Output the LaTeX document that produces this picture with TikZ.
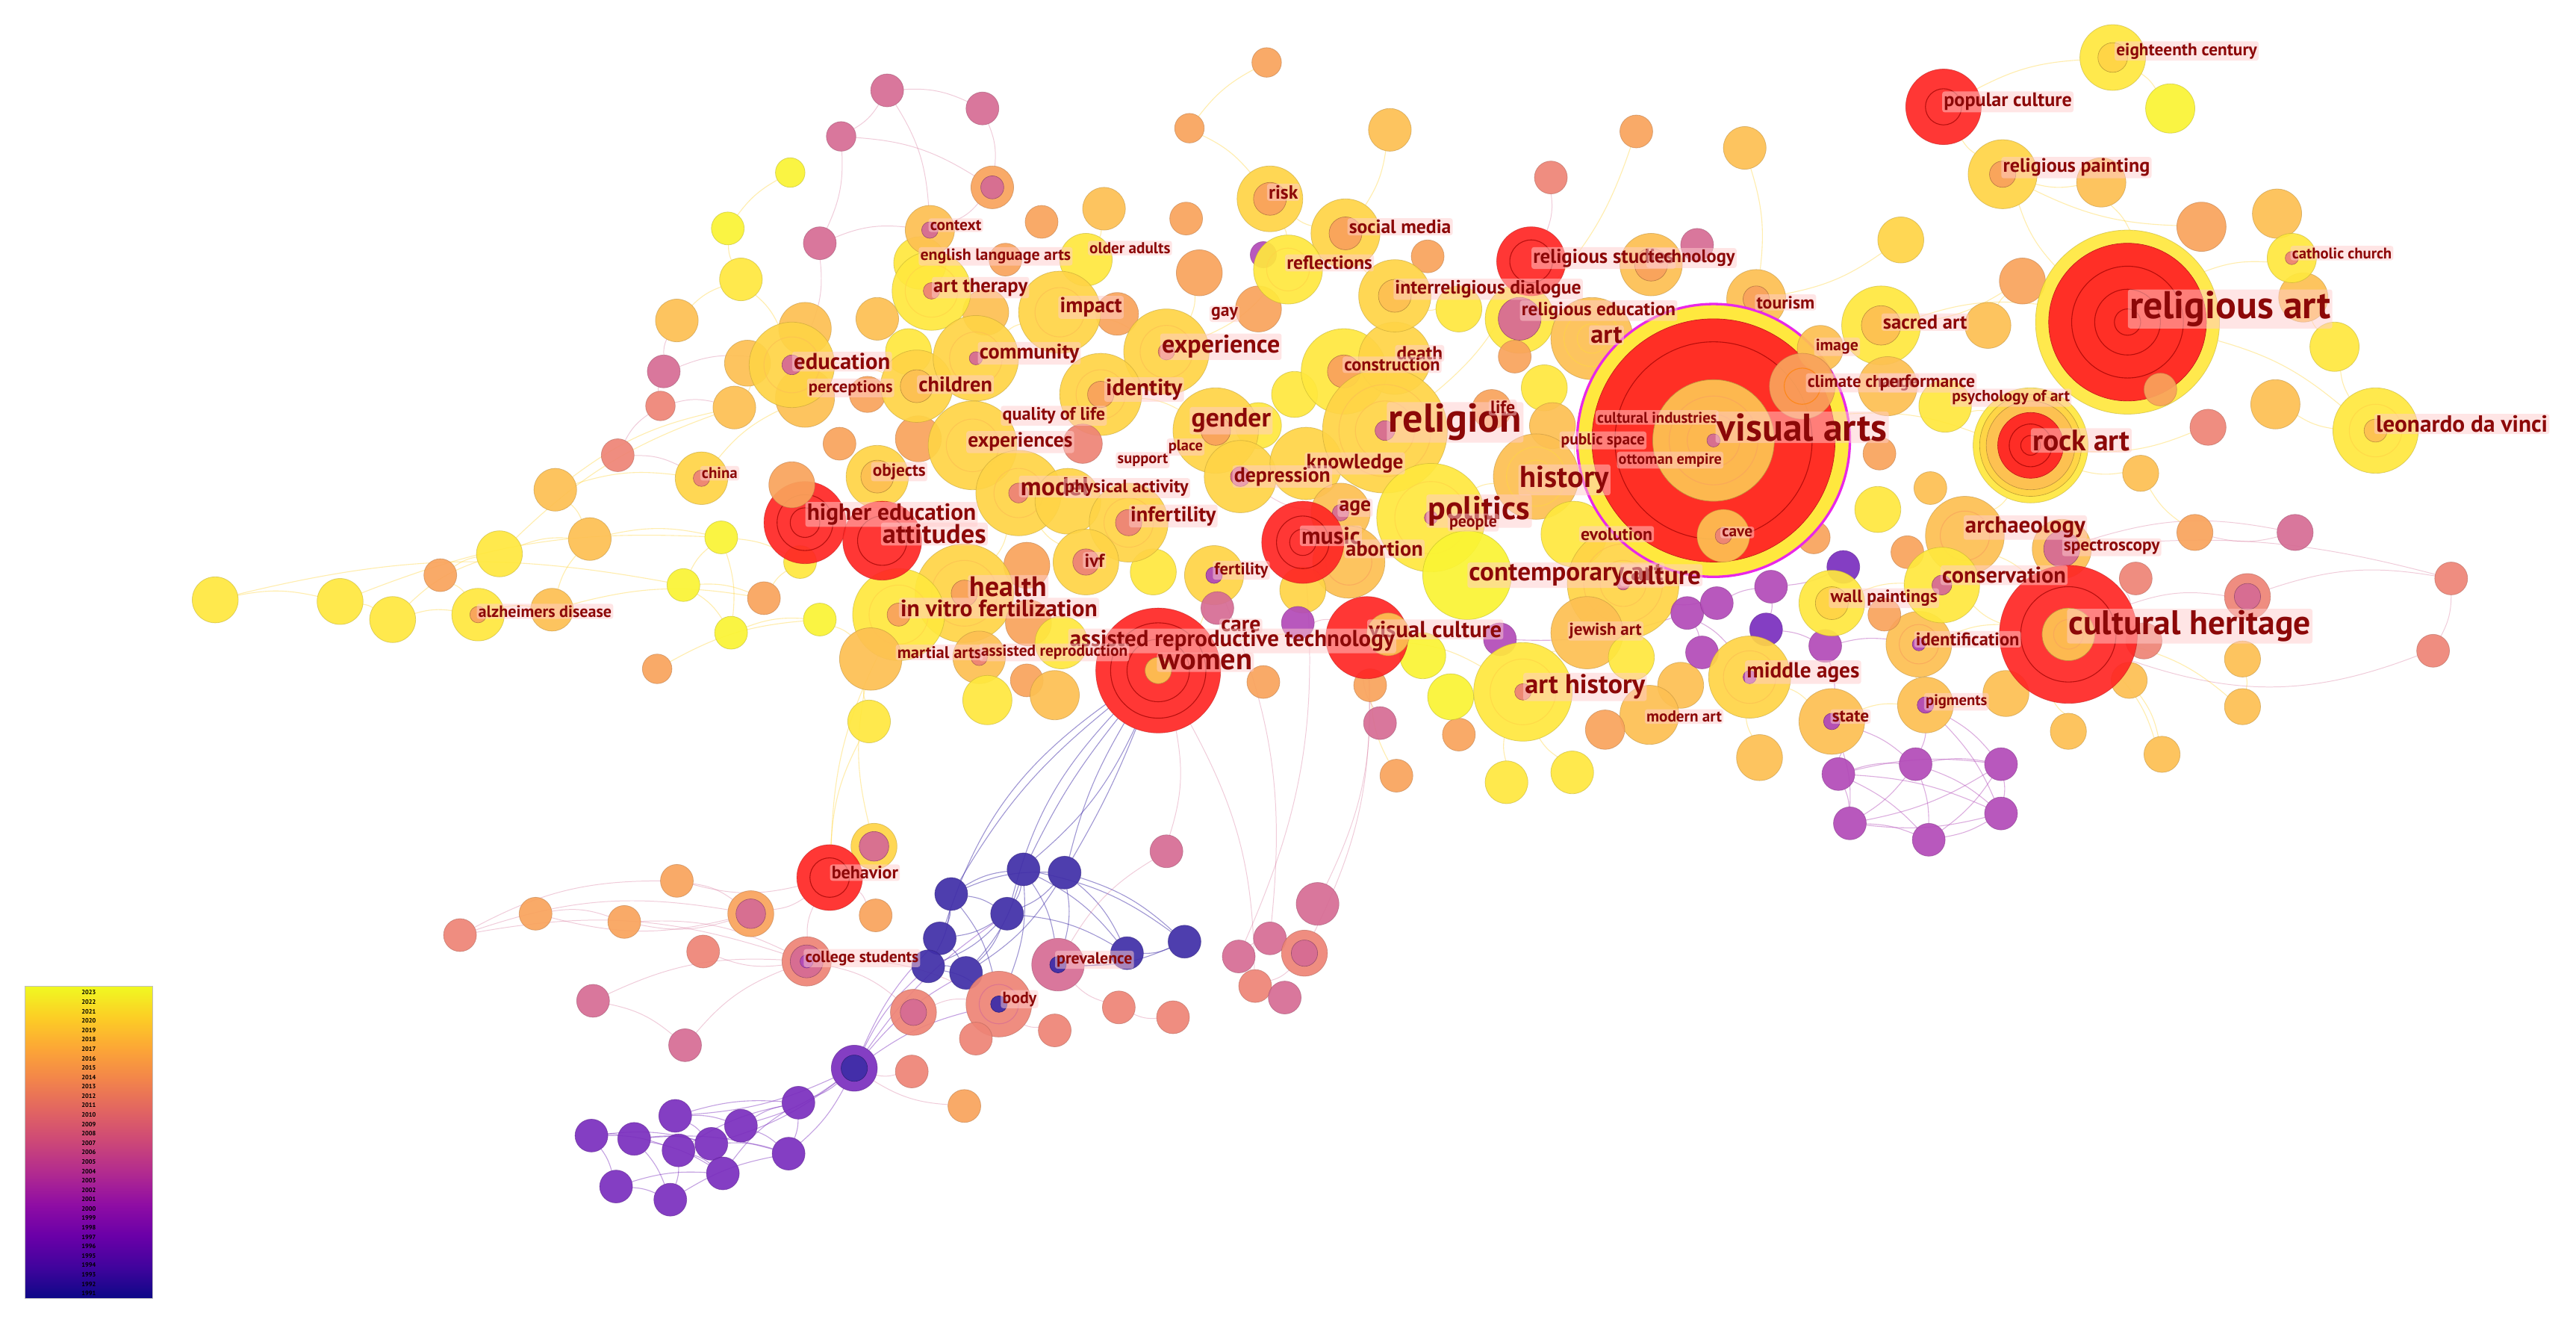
\documentclass[tikz,border=0pt]{standalone}
\usepackage{fontspec}
\setmainfont{PT Sans}
\pgfdeclarelayer{bg}
\pgfdeclarelayer{fg}
\pgfsetlayers{bg,main,fg}
\definecolor{cY}{RGB}{255,232,62}
\definecolor{cYB}{RGB}{250,244,52}
\definecolor{cLY}{RGB}{255,212,70}
\definecolor{cLO}{RGB}{253,192,82}
\definecolor{cO}{RGB}{249,163,92}
\definecolor{cS}{RGB}{238,132,118}
\definecolor{cP}{RGB}{214,108,148}
\definecolor{cM}{RGB}{178,74,184}
\definecolor{cV}{RGB}{122,46,190}
\definecolor{cB}{RGB}{64,46,168}
\definecolor{cR}{RGB}{255,38,36}
\definecolor{labred}{RGB}{140,8,8}
\definecolor{labbg}{RGB}{255,205,205}
\definecolor{mag}{RGB}{232,40,232}
\definecolor{pl0}{RGB}{13,8,135}
\definecolor{pl1}{RGB}{65,4,157}
\definecolor{pl2}{RGB}{106,0,168}
\definecolor{pl3}{RGB}{143,13,164}
\definecolor{pl4}{RGB}{177,42,144}
\definecolor{pl5}{RGB}{204,71,120}
\definecolor{pl6}{RGB}{225,100,98}
\definecolor{pl7}{RGB}{242,132,75}
\definecolor{pl8}{RGB}{252,166,54}
\definecolor{pl9}{RGB}{252,206,37}
\definecolor{pl10}{RGB}{240,249,33}
\pgfdeclareverticalshading{plasma}{100bp}{color(0bp)=(pl0); color(25bp)=(pl0); color(30bp)=(pl1); color(35bp)=(pl2); color(40bp)=(pl3); color(45bp)=(pl4); color(50bp)=(pl5); color(55bp)=(pl6); color(60bp)=(pl7); color(65bp)=(pl8); color(70bp)=(pl9); color(75bp)=(pl10); color(100bp)=(pl10)}
\tikzset{
 nd/.style={circle,inner sep=0pt,outer sep=0pt,fill opacity=0.92,draw opacity=0.55,line width=0.35pt},
 lab/.style={anchor=west,text=labred,fill=labbg,fill opacity=0.5,text opacity=1,inner sep=1pt,rounded corners=1.5pt},
 ye/.style={draw=cY!80!orange,line width=0.5pt,draw opacity=0.4},
 pe/.style={draw=cP,line width=0.45pt,draw opacity=0.35},
 be/.style={draw=cB,line width=0.5pt,draw opacity=0.5},
 ve/.style={draw=cV,line width=0.5pt,draw opacity=0.45},
 me/.style={draw=cM,line width=0.5pt,draw opacity=0.45},
 yrl/.style={font=\bfseries\fontsize{3.8}{3.8}\selectfont,text=black,inner sep=0pt},
 rl/.style={line width=0.5pt,draw opacity=0.7}
}
\newcommand\nd[5]{\node[nd,fill=#5,draw=#5!75!black,minimum size=#4*2pt] (#1) at (#2,#3) {};}
\newcommand\din[3]{\fill[#3,draw=#3!75!black,line width=0.3pt,fill opacity=0.95] (#1.center) circle[radius=#2pt];}
\newcommand\rng[3]{\draw[#3,rl] (#1.center) circle[radius=#2pt];}
\newcommand\lb[5]{\pgfmathsetmacro\labfs{#4*1.08}\node[lab,font=\bfseries\fontsize{\labfs}{\labfs}\selectfont] (#1) at (#2,#3) {#5};}
\begin{document}
\begin{tikzpicture}[x=1pt,y=-1pt]
\useasboundingbox (0,0) rectangle (1568,806);
\begin{pgfonlayer}{bg}
\fill[white] (0,0) rectangle (1568,806);
\end{pgfonlayer}
% ---------- outer left nodes
\nd{a1}{131}{365}{14}{cY}
\nd{a2}{207}{366}{14}{cY}
\nd{a3}{239}{377}{14}{cY}
\nd{a4}{268}{350}{10}{cO}
\nd{alz}{291}{374}{16}{cY} \din{alz}{5}{cO}
\nd{a5}{304}{337}{14}{cY}
\nd{a6}{336}{371}{13}{cLO}
\nd{a7}{338}{298}{13}{cLO}
\nd{a8}{359}{328}{13}{cLO}
\nd{a9}{376}{277}{10}{cS}
\nd{a10}{400}{407}{9}{cO}
\nd{a11}{402}{247}{9}{cS}
\nd{a12}{404}{226}{10}{cP}
\nd{a13}{412}{195}{13}{cLO}
\nd{a14}{416}{356}{10}{cYB}
\nd{china}{427}{291}{16}{cLY} \din{china}{5}{cS}
\nd{a15}{439}{327}{10}{cYB}
\nd{a16}{445}{385}{10}{cYB}
\nd{a17}{451}{170}{13}{cY}
\nd{a18}{443}{139}{10}{cYB}
\nd{a19}{447}{248}{13}{cLO}
\nd{a20}{481}{105}{9}{cYB}
\nd{a21}{499}{148}{10}{cP}
\nd{a22}{465}{364}{10}{cO}
\nd{a23}{487}{342}{10}{cY}
\nd{a24}{499}{377}{10}{cYB}
\nd{a25}{455}{221}{14}{cLO}
\nd{a26}{490}{242}{18}{cLO}
\nd{a27}{490}{200}{16}{cLO}
\nd{a28}{534}{194}{13}{cLO}
\nd{a29}{553}{214}{14}{cY}
\nd{a30}{511}{270}{10}{cO}
\nd{a31}{559}{267}{14}{cO}
\nd{a32}{529}{439}{13}{cY}
% ---------- top group
\nd{b1}{540}{55}{10}{cP}
\nd{b2}{598}{66}{10}{cP}
\nd{b3}{512}{83}{9}{cP}
\nd{b4}{604}{114}{13}{cO} \din{b4}{7}{cP}
\nd{b5}{634}{135}{10}{cO}
\nd{b6}{672}{127}{13}{cLO}
\nd{b7}{612}{158}{10}{cO}
\nd{b8}{730}{166}{14}{cO}
\nd{b9}{724}{78}{9}{cO}
\nd{b10}{771}{38}{9}{cO}
\nd{b11}{722}{133}{10}{cO}
\nd{b12}{661}{158}{16}{cY}
\nd{b13}{600}{190}{14}{cLO}
\nd{b14}{680}{191}{13}{cO}
\nd{b15}{846}{79}{13}{cLO}
\nd{b16}{996}{80}{10}{cO}
\nd{b17}{1062}{90}{13}{cLO}
\nd{b18}{944}{108}{10}{cS}
\nd{b19}{869}{156}{10}{cO}
\nd{b20}{888}{188}{14}{cY}
\nd{b21}{766}{188}{14}{cO}
\nd{b22}{1033}{149}{10}{cP}
\nd{t14}{1157}{146}{14}{cLY}
\nd{b24}{788}{240}{14}{cY}
\nd{b25}{766}{259}{14}{cY}
\nd{mrefl}{769}{155}{8}{cM}
% ---------- main cluster
\nd{edu}{482}{222}{26}{cLY} \rng{edu}{17}{cLO} \din{edu}{6}{cP}
\nd{perc}{528}{240}{11}{cO}
\nd{chil}{558}{235}{22}{cLY} \din{chil}{10}{cLO}
\nd{obj}{534}{290}{19}{cLY} \din{obj}{10}{cLO}
\nd{ela}{560}{160}{16}{cY}
\nd{ctx}{566}{140}{15}{cLO} \din{ctx}{5}{cP}
\nd{arth}{567}{177}{24}{cY} \rng{arth}{16}{cLY} \din{arth}{5}{cS}
\nd{imp}{645}{190}{25}{cLY} \rng{imp}{15}{cLO}
\nd{risk}{773}{121}{20}{cLY} \din{risk}{10}{cO}
\nd{smed}{819}{142}{21}{cLY} \din{smed}{10}{cO}
\nd{refl}{784}{164}{21}{cY} \rng{refl}{13}{cLY}
\nd{exp}{710}{214}{26}{cLY} \rng{exp}{16}{cLO} \din{exp}{5}{cS}
\nd{ident}{670}{240}{25}{cLY} \rng{ident}{15}{cLO} \din{ident}{8}{cO}
\nd{comm}{594}{218}{26}{cLY} \rng{comm}{16}{cLO} \din{comm}{4}{cP}
\nd{exps}{592}{271}{27}{cLY} \rng{exps}{16}{cLO}
\nd{qol}{659}{270}{12}{cS}
\nd{gend}{740}{262}{26}{cLY} \din{gend}{9}{cO}
\nd{model}{620}{300}{26}{cLY} \rng{model}{15}{cLO} \din{model}{6}{cS}
\nd{phys}{650}{305}{20}{cLY}
\nd{dep}{755}{290}{22}{cLY} \din{dep}{6}{cP}
\nd{know}{795}{282}{22}{cLY}
\nd{cons}{818}{226}{26}{cY} \din{cons}{10}{cO}
\nd{death}{849}{218}{22}{cLY}
\nd{inter}{849}{180}{22}{cLY} \din{inter}{10}{cLO}
\nd{relig}{843}{262}{38}{cLY} \rng{relig}{28}{cLO} \rng{relig}{18}{cLO} \din{relig}{6}{cP}
\nd{life}{908}{249}{12}{cO}
\nd{reled}{925}{194}{21}{cY} \din{reled}{13}{cP}
\nd{c1}{922}{217}{10}{cO}
\nd{art}{969}{206}{25}{cLO} \rng{art}{17}{cLY} \rng{art}{9}{cLY}
\nd{c2}{940}{236}{14}{cY}
\nd{c3}{945}{259}{14}{cLO}
\nd{polit}{871}{315}{33}{cY} \rng{polit}{22}{cLY} \din{polit}{4}{cP}
\nd{hist}{935}{290}{26}{cLO} \rng{hist}{18}{cLY} \rng{hist}{10}{cLY}
\nd{c4}{893}{350}{27}{cYB}
\nd{evol}{958}{325}{20}{cY}
\nd{cont}{988}{355}{34}{cLY} \rng{cont}{24}{cLO} \rng{cont}{14}{cLO} \din{cont}{4}{cP}
\nd{age}{816}{312}{18}{cLO} \din{age}{5}{cP}
\nd{abort}{821}{342}{22}{cLO} \rng{abort}{14}{cO}
\nd{c5}{793}{359}{14}{cLY}
\nd{fert}{739}{350}{18}{cLY} \din{fert}{5}{cM}
\nd{care}{741}{370}{10}{cP}
\nd{c6}{702}{348}{14}{cY}
\nd{inf}{687}{318}{24}{cLY} \rng{inf}{15}{cLO} \din{inf}{8}{cS}
\nd{ivf}{661}{342}{20}{cLY} \din{ivf}{8}{cS}
\nd{c7}{625}{344}{14}{cO}
\nd{hlth}{587}{361}{30}{cLY} \rng{hlth}{20}{cLO} \din{hlth}{8}{cO}
\nd{ivfz}{547}{374}{28}{cY} \rng{ivfz}{18}{cLY} \din{ivfz}{7}{cO}
\nd{mart}{530}{401}{19}{cLO}
\nd{arep}{596}{400}{16}{cLO} \din{arep}{5}{cS}
\nd{c8}{626}{379}{14}{cO}
\nd{art2}{646}{391}{16}{cY}
\nd{c9}{625}{414}{10}{cO}
\nd{c10}{642}{423}{15}{cLO}
\nd{c11}{601}{426}{15}{cY}
\nd{c12}{769}{415}{10}{cO}
\nd{c13}{790}{379}{10}{cM}
\nd{c14}{834}{417}{10}{cO}
\nd{c15}{840}{440}{10}{cP}
\nd{c16}{888}{447}{10}{cO}
\nd{c17}{866}{399}{14}{cYB}
\nd{c18}{883}{424}{14}{cYB}
\nd{c19}{913}{389}{10}{cM}
\nd{c20}{850}{472}{10}{cO}
\nd{c21}{917}{476}{13}{cY}
\nd{c22}{957}{470}{13}{cY}
\nd{ahist}{927}{421}{30}{cY} \rng{ahist}{20}{cLY} \din{ahist}{5}{cS}
\nd{jew}{966}{385}{22}{cLO}
\nd{c23}{993}{400}{14}{cY}
\nd{c24}{1023}{417}{14}{cLO}
\nd{modart}{1004}{435}{18}{cLO}
\nd{c25}{977}{444}{12}{cO}
\nd{pm1}{1027}{373}{10}{cM}
\nd{pm2}{1045}{367}{10}{cM}
\nd{pm3}{1036}{397}{10}{cM}
\nd{pm4}{1078}{357}{10}{cM}
\nd{pm5}{1075}{383}{10}{cV}
\nd{pm6}{1111}{393}{10}{cM}
\nd{pm7}{1122}{345}{10}{cV}
\nd{mid}{1065}{412}{25}{cLY} \rng{mid}{16}{cLO} \din{mid}{4}{cM}
\nd{c26}{1071}{461}{14}{cLO}
\nd{state}{1115}{439}{20}{cLO} \din{state}{5}{cM}
\nd{pig}{1172}{429}{17}{cLO} \din{pig}{5}{cM}
\nd{ident2}{1168}{392}{20}{cLO} \rng{ident2}{12}{cO} \din{ident2}{4}{cM}
\nd{c27}{1147}{374}{10}{cO}
\nd{wall}{1115}{367}{20}{cY} \din{wall}{10}{cLY}
\nd{c28}{1161}{336}{10}{cO}
\nd{c29}{1143}{310}{14}{cY}
\nd{c30}{1175}{297}{10}{cLO}
\nd{c31}{1144}{276}{10}{cO}
\nd{c32}{1104}{327}{10}{cO}
\nd{arch}{1196}{326}{24}{cLO} \rng{arch}{15}{cO}
\nd{cons2}{1182}{356}{23}{cY} \din{cons2}{6}{cP}
\nd{spec}{1255}{334}{18}{cLO} \din{spec}{11}{cP}
% ---------- right side
\nd{r1}{1300}{352}{10}{cS}
\nd{r2}{1305}{390}{11}{cS}
\nd{r3}{1368}{363}{14}{cS} \din{r3}{8}{cP}
\nd{r4}{1397}{324}{11}{cP}
\nd{r5}{1336}{324}{11}{cO}
\nd{r6}{1492}{352}{10}{cS}
\nd{r7}{1481}{396}{10}{cS}
\nd{r8}{1365}{401}{11}{cLO}
\nd{r9}{1296}{414}{11}{cLO}
\nd{r10}{1365}{430}{11}{cLO}
\nd{r11}{1259}{445}{11}{cLO}
\nd{r12}{1316}{459}{11}{cLO}
\nd{r13}{1221}{422}{14}{cLO}
\nd{m1}{1119}{471}{10}{cM}
\nd{m2}{1166}{465}{10}{cM}
\nd{m3}{1218}{465}{10}{cM}
\nd{m4}{1218}{495}{10}{cM}
\nd{m5}{1126}{501}{10}{cM}
\nd{m6}{1174}{511}{10}{cM}
\nd{t2}{1386}{130}{15}{cLO}
\nd{t3}{1340}{138}{15}{cO}
\nd{t4}{1402}{181}{15}{cLO}
\nd{cath}{1395}{157}{15}{cY} \din{cath}{4}{cS}
\nd{t5}{1421}{211}{15}{cY}
\nd{t6}{1385}{246}{15}{cLO}
\nd{t7}{1344}{260}{11}{cS}
\nd{t8}{1303}{288}{11}{cLO}
\nd{t9}{1279}{111}{15}{cLO}
\nd{t10}{1321}{66}{15}{cYB}
\nd{t12}{1231}{171}{14}{cO}
\nd{t13}{1210}{198}{14}{cLO}
\nd{leo}{1446}{262}{26}{cY} \rng{leo}{16}{cLY} \din{leo}{7}{cLO}
\nd{rpaint}{1219}{106}{21}{cLY} \din{rpaint}{8}{cO}
\nd{eight}{1286}{35}{20}{cY} \din{eight}{9}{cLY}
\nd{pop}{1183}{65}{23}{cR} \rng{pop}{11}{red!60!black}
\nd{tour}{1069}{182}{18}{cLO} \din{tour}{8}{cO}
\nd{tech}{1005}{161}{19}{cLO} \din{tech}{10}{cO}
\nd{relst}{932}{159}{21}{cR} \rng{relst}{13}{red!60!black}
\nd{sacred}{1145}{198}{24}{cY} \din{sacred}{12}{cLO}
\nd{psych}{1184}{247}{16}{cY}
% visual arts
\node[circle,inner sep=0pt,minimum size=166pt,fill=cY,draw=mag,line width=1.5pt] (va) at (1043,268) {};
\din{va}{74}{cR} \rng{va}{60}{red!60!black} \din{va}{37}{cLO} \rng{va}{27}{cO} \rng{va}{16}{cO} \din{va}{4}{cP}
\nd{image}{1108}{212}{14}{cLO}
\nd{clim}{1097}{235}{20}{cO} \rng{clim}{11}{orange}
\nd{perf}{1149}{235}{18}{cLO}
\nd{cave}{1049}{326}{16}{cLO} \din{cave}{5}{cS}
% religious art, rock art, cultural heritage
\nd{relart}{1295}{196}{56}{cY} \din{relart}{48}{cR} \rng{relart}{34}{red!60!black} \rng{relart}{20}{red!60!black} \rng{relart}{8}{red!60!black}
\nd{t11}{1315}{237}{10}{cO}
\nd{rock}{1236}{271}{35}{cY} \din{rock}{31}{cLY} \din{rock}{27}{cLO} \din{rock}{20}{cR} \rng{rock}{13}{red!60!black} \rng{rock}{6}{red!60!black}
\nd{ch}{1259}{386}{42}{cR} \rng{ch}{29}{red!60!black} \din{ch}{16}{cLO} \rng{ch}{9}{cO}
% red nodes in cluster
\nd{hied}{490}{318}{25}{cR} \rng{hied}{17}{red!60!black} \rng{hied}{9}{red!60!black}
\nd{att}{537}{329}{24}{cR} \rng{att}{15}{red!60!black}
\nd{a33}{482}{295}{14}{cO}
\nd{music}{793}{330}{25}{cR} \rng{music}{16}{red!60!black} \rng{music}{8}{red!60!black}
\nd{vcul}{832}{388}{25}{cR}
\nd{vin}{845}{386}{13}{cLO}
\nd{women}{705}{408}{38}{cR} \rng{women}{29}{red!60!black} \rng{women}{19}{red!60!black} \din{women}{8}{cLO}
% ---------- lower clusters
\nd{lyr}{532}{515}{14}{cLY} \din{lyr}{9}{cP}
\nd{beh}{505}{534}{20}{cR} \rng{beh}{12}{red!60!black}
\nd{o1}{412}{536}{10}{cO}
\nd{o2}{326}{556}{10}{cO}
\nd{o3}{380}{561}{10}{cO}
\nd{oring}{457}{556}{14}{cO} \din{oring}{9}{cP}
\nd{o4}{533}{557}{10}{cO}
\nd{s1}{280}{569}{10}{cS}
\nd{s2}{428}{579}{10}{cS}
\nd{cs}{491}{585}{15}{cS} \din{cs}{10}{cP} \din{cs}{4}{cM}
\nd{p1}{361}{609}{10}{cP}
\nd{p2}{417}{636}{10}{cP}
\nd{sring}{556}{616}{14}{cS} \din{sring}{8}{cP}
\nd{q1}{579}{544}{10}{cB}
\nd{q2}{623}{529}{10}{cB}
\nd{q3}{648}{531}{10}{cB}
\nd{q4}{613}{556}{10}{cB}
\nd{q5}{572}{571}{10}{cB}
\nd{q6}{565}{588}{10}{cB}
\nd{q7}{588}{592}{10}{cB}
\nd{q8}{721}{573}{10}{cB}
\nd{q9}{686}{580}{10}{cB}
\nd{prev}{644}{587}{16}{cP} \din{prev}{5}{cB}
\nd{body}{608}{611}{20}{cS} \rng{body}{12}{cP} \din{body}{5}{cB}
\nd{s3}{594}{632}{10}{cS}
\nd{s4}{642}{627}{10}{cS}
\nd{s5}{681}{613}{10}{cS}
\nd{s6}{714}{619}{10}{cS}
\nd{p3}{710}{518}{10}{cP}
\nd{vr}{520}{650}{14}{cV} \din{vr}{8}{cB}
\nd{s7}{555}{652}{10}{cS}
\nd{o5}{587}{673}{10}{cO}
\nd{v1}{360}{691}{10}{cV}
\nd{v2}{386}{693}{10}{cV}
\nd{v3}{411}{679}{10}{cV}
\nd{v4}{413}{700}{10}{cV}
\nd{v5}{433}{696}{10}{cV}
\nd{v6}{451}{685}{10}{cV}
\nd{v7}{486}{671}{10}{cV}
\nd{v8}{480}{702}{10}{cV}
\nd{v9}{440}{714}{10}{cV}
\nd{v10}{375}{722}{10}{cV}
\nd{v11}{408}{730}{10}{cV}
\nd{p4}{754}{582}{10}{cP}
\nd{p5}{773}{571}{10}{cP}
\nd{sr2}{794}{580}{14}{cS} \din{sr2}{8}{cP}
\nd{s8}{764}{600}{10}{cS}
\nd{p6}{782}{607}{10}{cP}
\nd{p7}{802}{550}{13}{cP}
% ---------- connectors
\begin{pgfonlayer}{bg}
\foreach \u/\v in {a1/a2,a2/a3,a3/alz,alz/a6,a6/a8,a4/a5,a4/alz,a5/a8,a3/a5,a7/a8,a7/china,a8/a15,a14/a15,a14/a16,a15/a16,a16/a24,a22/a23,a15/a23,a5/a19,a7/a19,a17/a18,a18/a20,a17/edu,a13/a17,a19/edu,china/a26,a14/a22,edu/chil,chil/comm,comm/imp,imp/exp,exp/ident,ident/gend,gend/dep,dep/know,know/relig,relig/polit,polit/hist,hist/va,relig/cons,cons/death,death/inter,inter/smed,smed/risk,risk/refl,refl/exp,arth/comm,arth/ctx,relst/relig,reled/art,art/va,va/tour,va/sacred,sacred/relart,relart/rpaint,rpaint/pop,pop/eight,eight/t10,relart/cath,relart/leo,va/rock,rock/arch,arch/ch,ch/cons2,ch/spec,b15/smed,b17/tour,b9/risk,b9/b10,b16/reled,b20/inter,b12/imp,b6/b12,b8/exp,b13/arth,model/hlth,hlth/ivfz,ivfz/mart,hlth/arep,inf/ivf,ivf/model,fert/women,women/vcul,vcul/ahist,ahist/jew,jew/cont,cont/evol,evol/cave,mid/state,state/pig,pig/ident2,ident2/ch,wall/cons2,cons2/arch,ch/r10,ch/r12,r11/ch,r9/r12,r8/r10,leo/t6,leo/t5,cath/t2,t3/rpaint,t9/rpaint,t9/relart,t4/cath,t5/t4,t7/rock,t8/rock,r5/t8,ch/r13,r13/pig,psych/rock,perf/sacred,t12/sacred,t13/t12,t14/tour,beh/a32,lyr/mart,lyr/beh,beh/ivfz,a32/mart,a1/a14,a2/a15,a24/mart,a23/hied,c21/ahist,c22/ahist,c20/c14,c16/c18,modart/c24,c26/mid,c25/modart,a10/a24,a6/a22}
  \draw[ye] (\u) to[bend left=12] (\v);
\foreach \u/\v in {a9/a11,a9/china,a11/a12,a12/a13,a12/edu,a21/edu,a21/ctx,a11/a19,b1/b2,b1/b3,b2/b4,b3/b4,b1/ctx,b4/ctx,b3/a21,b18/relst,b22/tech,ch/r3,r3/r6,r6/r7,spec/r4,r4/r5,r1/ch,r2/ch,age/dep,care/fert,c13/vcul,c15/vcul}
  \draw[pe] (\u) to[bend left=14] (\v);
\draw[pe] (r7) to[bend left=20] (ch);
\draw[pe] (spec) to[bend left=10] (r6);
\foreach \u/\v in {m1/m2,m1/m3,m1/m4,m1/m5,m1/m6,m2/m3,m2/m4,m2/m5,m2/m6,m3/m4,m3/m5,m3/m6,m4/m5,m4/m6,m5/m6,state/m1,state/m2,pig/m2,pig/m3,state/m5,pig/m4,pm1/pm3,pm2/pm4,pm4/pm5,pm5/pm6,pm7/pm4,pm1/mid,pm3/mid,pm6/ident2,pm7/wall,pm2/cont,pm1/c19,c19/ahist,pm5/mid,pm6/state}
  \draw[me] (\u) to[bend left=10] (\v);
\foreach \u/\v in {q1/q2,q1/q3,q1/q4,q2/q4,q3/q4,q2/q9,q3/q9,q3/q8,q2/q8,q4/q5,q4/q6,q4/q7,q5/q7,q6/q7,q1/q5,q3/prev,q2/body,q7/body,q6/body,q9/prev,q4/q9,q8/prev,q1/body,q2/prev,q5/q6,q8/q9,q1/q6,q3/q7,q2/q7}
  \draw[be] (\u) to[bend left=12] (\v);
\foreach \v/\b in {q1/10,q2/6,q3/-4,q4/14,q5/18,q2/-12,q3/8}
  \draw[be] (women) to[bend right=\b] (\v);
\foreach \u/\v in {vr/q6,vr/q7,vr/body,vr/q4,vr/q5,vr/v6,vr/v7,vr/v8,vr/v5,vr/v3,v1/v2,v1/v4,v2/v5,v3/v6,v4/v9,v5/v8,v2/v9,v10/v11,v1/v10,v4/v11,v6/v8,v7/v8,v3/v5,v11/v8,v9/v7,v2/v8,v1/v5,v2/v11,v10/v9,v4/v7,v3/v7,v6/v7}
  \draw[ve] (\u) to[bend left=10] (\v);
\foreach \u/\v in {beh/o1,beh/oring,oring/o2,oring/o3,o2/o3,o1/oring,s1/cs,cs/beh,cs/s2,p1/p2,p2/cs,cs/sring,beh/o4,s1/o1,o3/cs,sring/body,cs/body,s4/body,s5/prev,s6/s5,s3/body,o5/vr,s7/vr,prev/p3,p4/p5,p5/sr2,sr2/s8,s8/p6,p4/s8,music/p4,vcul/sr2,vcul/p7,women/p3,women/s8,fert/p5,s1/oring,p1/cs}
  \draw[pe] (\u) to[bend left=14] (\v);
\end{pgfonlayer}
% ---------- labels
\begin{pgfonlayer}{fg}
\lb{leight}{1287}{31}{9.8}{eighteenth century}
\lb{lpop}{1182}{62}{11}{popular culture}
\lb{lrpaint}{1218}{102}{11}{religious painting}
\lb{lcath}{1394}{154}{8.7}{catholic church}
\lb{lrelart}{1295}{188}{21.8}{religious art}
\lb{lsacred}{1145}{196}{11.2}{sacred art}
\lb{lleo}{1445}{258}{13.2}{leonardo da vinci}
\lb{lrock}{1236}{268}{16.7}{rock art}
\lb{lpsych}{1187}{242}{9}{psychology of art}
\lb{lclim}{1099}{233}{9.6}{climate change}
\lb{lperf}{1143}{233}{10}{performance}
\lb{limage}{1104}{211}{9.2}{image}
\lb{ltour}{1068}{184}{10}{tourism}
\lb{lrelst}{932}{157}{11.3}{religious studies}
\lb{ltech}{1002}{157}{10.3}{technology}
\lb{linter}{848}{176}{10.8}{interreligious dialogue}
\lb{lreled}{925}{189}{10.6}{religious education}
\lb{lart}{967}{204}{14.5}{art}
\lb{lcind}{971}{254}{8.7}{cultural industries}
\lb{lva}{1044}{260}{21.8}{visual arts}
\lb{lpspace}{949}{268}{9}{public space}
\lb{lott}{984}{280}{8.5}{ottoman empire}
\lb{lhist}{924}{292}{17}{history}
\lb{lcave}{1047}{324}{9}{cave}
\lb{levol}{961}{325}{10}{evolution}
\lb{lcont}{893}{350}{14.8}{contemporary art}
\lb{lcult}{986}{350}{14.8}{culture}
\lb{lpol}{868}{311}{18.5}{politics}
\lb{lpeople}{881}{318}{9.2}{people}
\lb{lrelig}{844}{257}{22.7}{religion}
\lb{llife}{906}{248}{10}{life}
\lb{ldeath}{849}{215}{10.6}{death}
\lb{lconst}{817}{222}{10.2}{construction}
\lb{lsmed}{820}{138}{10.8}{social media}
\lb{lrefl}{782}{160}{10.7}{reflections}
\lb{lrisk}{771}{117}{10.8}{risk}
\lb{lgay}{736}{191}{10}{gay}
\lb{lexp}{706}{211}{14.3}{experience}
\lb{lold}{662}{151}{8.9}{older adults}
\lb{limp}{644}{187}{12.1}{impact}
\lb{lctx}{565}{137}{9}{context}
\lb{lela}{559}{156}{9.2}{english language arts}
\lb{larth}{567}{175}{11.2}{art therapy}
\lb{lcomm}{595}{215}{11.9}{community}
\lb{ledu}{482}{220}{12.9}{education}
\lb{lperc}{491}{236}{9.5}{perceptions}
\lb{lchil}{558}{234}{11.9}{children}
\lb{lident}{672}{237}{13.1}{identity}
\lb{lqol}{609}{253}{10.2}{quality of life}
\lb{lgend}{724}{256}{15}{gender}
\lb{lexps}{588}{269}{11.6}{experiences}
\lb{lplace}{710}{272}{8.6}{place}
\lb{lsupp}{679}{280}{8.6}{support}
\lb{lknow}{794}{282}{11.7}{knowledge}
\lb{ldep}{750}{290}{11.7}{depression}
\lb{lchina}{426}{288}{8.8}{china}
\lb{lobj}{530}{287}{9.8}{objects}
\lb{lmodel}{620}{296}{14.5}{model}
\lb{lphys}{647}{297}{10.2}{physical activity}
\lb{linf}{687}{314}{12}{infertility}
\lb{lhied}{490}{313}{13.2}{higher education}
\lb{latt}{536}{325}{15.3}{attitudes}
\lb{lage}{814}{309}{11.6}{age}
\lb{lmusic}{791}{326}{13.4}{music}
\lb{labort}{818}{334}{11.9}{abortion}
\lb{livf}{659}{341}{10.5}{ivf}
\lb{lfert}{738}{347}{9.5}{fertility}
\lb{lhealth}{589}{357}{15.9}{health}
\lb{livfz}{547}{370}{13.3}{in vitro fertilization}
\lb{lalz}{290}{372}{9.3}{alzheimers disease}
\lb{lcare}{742}{381}{12.5}{care}
\lb{lvcul}{832}{383}{13}{visual culture}
\lb{ljew}{954}{384}{9.7}{jewish art}
\lb{lwall}{1113}{364}{10}{wall paintings}
\lb{lcons}{1181}{350}{12.8}{conservation}
\lb{larch}{1195}{321}{13}{archaeology}
\lb{lspec}{1255}{333}{9.8}{spectroscopy}
\lb{lident2}{1165}{389}{10.3}{identification}
\lb{lch}{1258}{381}{19.2}{cultural heritage}
\lb{lart2}{650}{390}{13}{assisted reproductive technology}
\lb{lwomen}{704}{403}{17}{women}
\lb{lmart}{545}{397}{9.5}{martial arts}
\lb{larep}{596}{397}{9}{assisted reproduction}
\lb{lmid}{1062}{409}{12.3}{middle ages}
\lb{lahist}{927}{418}{15.3}{art history}
\lb{lmod}{1001}{436}{8.9}{modern art}
\lb{lstate}{1114}{436}{9.8}{state}
\lb{lpig}{1171}{427}{8.7}{pigments}
\lb{lbeh}{505}{531}{10.1}{behavior}
\lb{lcs}{489}{583}{9.1}{college students}
\lb{lprev}{642}{584}{9.2}{prevalence}
\lb{lbody}{609}{608}{9.2}{body}
% ---------- legend
\shade[shading=plasma] (15,600) rectangle (93,790);
\draw[gray!50,line width=0.4pt] (15,600) rectangle (93,790);
\foreach \i in {0,...,32}{
  \pgfmathtruncatemacro\yr{2023-\i}
  \node[yrl] (yr\i) at (54,{604+5.72*\i}) {\yr};
}
\end{pgfonlayer}
\end{tikzpicture}
\end{document}
